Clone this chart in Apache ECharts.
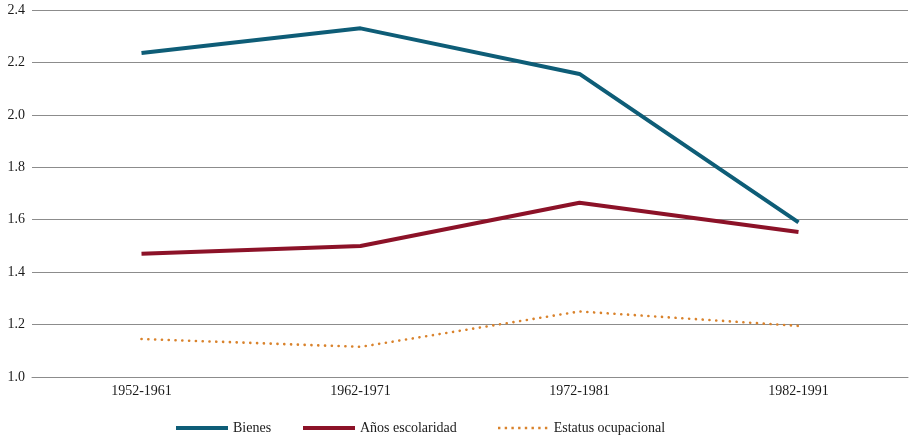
<!DOCTYPE html>
<html><head><meta charset="utf-8">
<script src="https://cdn.jsdelivr.net/npm/echarts@6/dist/echarts.min.js"></script>
<style>html,body{margin:0;padding:0;background:#fff}#c{width:911px;height:440px}</style>
</head><body><div id="c"></div>
<script>
const categories = ['1952-1961','1962-1971','1972-1981','1982-1991'];
const bienes = [2.236, 2.33, 2.156, 1.59];
const anosEscolaridad = [1.47, 1.50, 1.665, 1.553];
const estatusOcupacional = [1.145, 1.115, 1.25, 1.195];
const yTicks = {min: 1.0, max: 2.4, interval: 0.2};

const font = '"Liberation Serif", "DejaVu Serif", serif';
let dots = '';
for (let i = 0; i < 8; i++) { const x = i * 6.7; dots += `M${x},0 h2.4 v2.4 h-2.4 Z `; }
const legendBase = {
  bottom: 0, itemWidth: 52, itemHeight: 4,
  icon: 'path://M0,0 L52,0 L52,4 L0,4 Z',
  textStyle: {color: '#1a1a1a', fontSize: 14, fontFamily: font}
};
const chart = echarts.init(document.getElementById('c'));
chart.setOption({
  animation: false,
  textStyle: {fontFamily: font},
  grid: {left: 32, right: 3, top: 10, bottom: 63},
  xAxis: {
    type: 'category', data: categories, boundaryGap: true,
    axisLine: {lineStyle: {color: '#8c8c8c', width: 1}},
    axisTick: {show: false},
    axisLabel: {color: '#1a1a1a', fontSize: 14, fontFamily: font, margin: 7}
  },
  yAxis: {
    type: 'value', min: yTicks.min, max: yTicks.max, interval: yTicks.interval,
    axisLine: {show: false}, axisTick: {show: false},
    splitLine: {lineStyle: {color: '#8c8c8c', width: 1}},
    axisLabel: {color: '#1a1a1a', fontSize: 14, fontFamily: font, margin: 7,
      formatter: v => v.toFixed(1)}
  },
  legend: [
    Object.assign({}, legendBase, {left: 171, data: ['Bienes']}),
    Object.assign({}, legendBase, {left: 298, data: ['Años escolaridad']}),
    Object.assign({}, legendBase, {left: 493, itemHeight: 2.4,
      data: [{name: 'Estatus ocupacional', icon: 'path://' + dots}]})
  ],
  series: [
    {name: 'Bienes', type: 'line', data: bienes, showSymbol: false, symbol: 'none',
     lineStyle: {color: '#0e5d77', width: 4}, itemStyle: {color: '#0e5d77'}},
    {name: 'Años escolaridad', type: 'line', data: anosEscolaridad, showSymbol: false, symbol: 'none',
     lineStyle: {color: '#8c1228', width: 4}, itemStyle: {color: '#8c1228'}},
    {name: 'Estatus ocupacional', type: 'line', data: estatusOcupacional, showSymbol: false, symbol: 'none',
     lineStyle: {color: '#d9822b', width: 2.6, type: [0.1, 6.7], cap: 'round'}, itemStyle: {color: '#d9822b'}}
  ]
});
</script></body></html>
